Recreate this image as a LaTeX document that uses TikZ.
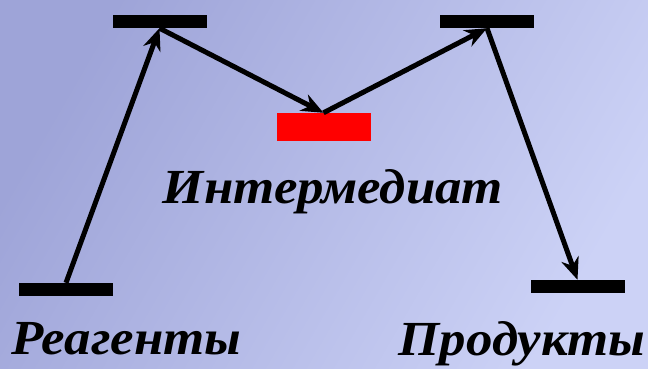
\documentclass[tikz,border=0pt]{standalone}
\usepackage{fontspec}
\setmainfont{Liberation Serif}[FakeStretch=1.08]
\usetikzlibrary{arrows.meta,positioning}

\definecolor{bgleft}{RGB}{158,164,216}
\definecolor{bgright}{RGB}{204,210,246}

\tikzset{
  level/.style={fill=black,inner sep=0pt,minimum width=94pt,minimum height=13pt},
  inter/.style={level,fill=red,minimum height=28pt},
  label/.style={anchor=base,inner sep=0pt,font=\fontsize{49}{49}\selectfont\bfseries\itshape},
  path/.style={line width=5pt,-{Stealth[length=22pt,width=18pt,inset=7pt]}}
}

\begin{document}
\begin{tikzpicture}[x=1pt,y=-1pt]
        \useasboundingbox (0,0) rectangle (648,369);
        \shade[top color=bgleft,bottom color=bgright,shading angle=60] (0,0) rectangle (648,369);

        \node[level] (reag) at (66,289.5) {};
        \node[level] (ts1) at (159.5,21.5) {};
        \node[inter] (int) at (323.5,127) {};
        \node[level] (ts2) at (487,21.5) {};
        \node[level] (prod) at (577.5,286.5) {};

        \node[label] (reaglabel) at (126.5,354) {Реагенты};
        \node[label] (intlabel) at (333,203) {Интермедиат};
        \node[label] (prodlabel) at (522,355) {Продукты};

        \draw[path] (reag.north) -- (ts1.south);
        \draw[path] (ts1.south) -- (int.north);
        \draw[path] (int.north) -- (ts2.south);
        \draw[path] (ts2.south) -- (prod.north);
\end{tikzpicture}
\end{document}
